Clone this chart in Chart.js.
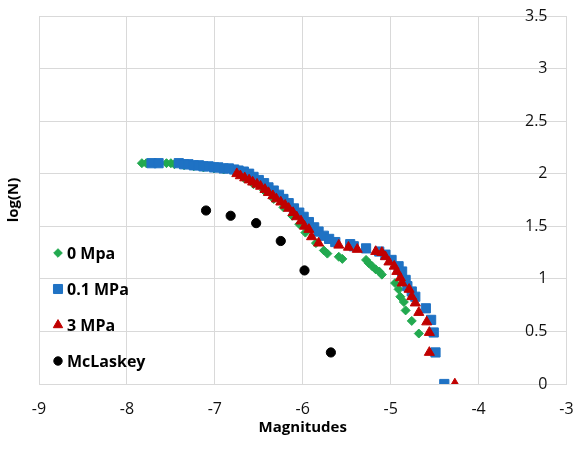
<!DOCTYPE html>
<html>
<head>
<meta charset="utf-8">
<title>log(N) vs Magnitudes</title>
<script src="https://cdn.jsdelivr.net/npm/chart.js@4.4.1/dist/chart.umd.min.js"></script>
<style>
  html, body { margin: 0; padding: 0; background: #fff; }
  #wrap { width: 574px; height: 449px; }
</style>
</head>
<body>
<div id="wrap"><canvas id="magChart"></canvas></div>
<script>
// values: magnitude (x) and log(N) (y)
const mpa0X = [-7.83, -7.78, -7.55, -7.50, -7.46, -7.35, -7.24, -7.13, -7.01, -6.90, -6.78, -6.67, -6.56, -6.44,
  -6.33, -6.22, -6.12, -6.04, -5.97, -5.85, -5.76, -5.72, -5.59, -5.55, -5.28, -5.25, -5.21, -5.17, -5.13, -5.10,
  -4.95, -4.91, -4.89, -4.85, -4.83, -4.76, -4.68];
const mpa0Y = [2.10, 2.10, 2.10, 2.10, 2.09, 2.08, 2.07, 2.06, 2.05, 2.04, 2.02, 1.96, 1.90, 1.84,
  1.76, 1.68, 1.60, 1.52, 1.44, 1.34, 1.27, 1.24, 1.21, 1.19, 1.18, 1.15, 1.12, 1.09, 1.07, 1.04,
  0.96, 0.90, 0.83, 0.78, 0.70, 0.60, 0.48];

const mpa01X = [-7.72, -7.64, -7.41, -7.35, -7.30, -7.24, -7.18, -7.13, -7.07, -7.01, -6.96, -6.90, -6.84, -6.78,
  -6.73, -6.67, -6.61, -6.56, -6.50, -6.44, -6.39, -6.33, -6.27, -6.22, -6.16, -6.10, -6.04, -5.99, -5.93, -5.87,
  -5.82, -5.76, -5.70, -5.63, -5.46, -5.42, -5.28, -5.13, -5.06, -4.99, -4.91, -4.87, -4.83, -4.81, -4.76, -4.72,
  -4.60, -4.54, -4.51, -4.49, -4.39];
const mpa01Y = [2.10, 2.10, 2.10, 2.09, 2.09, 2.08, 2.08, 2.07, 2.07, 2.06, 2.06, 2.05, 2.05, 2.04,
  2.03, 2.02, 2.00, 1.97, 1.94, 1.91, 1.87, 1.84, 1.80, 1.76, 1.72, 1.67, 1.63, 1.59, 1.54, 1.49,
  1.45, 1.41, 1.38, 1.35, 1.33, 1.31, 1.29, 1.26, 1.23, 1.18, 1.12, 1.07, 0.99, 0.93, 0.88, 0.83,
  0.72, 0.61, 0.49, 0.30, 0.00];

const mpa3X = [-6.75, -6.71, -6.66, -6.61, -6.57, -6.52, -6.48, -6.43, -6.39, -6.34, -6.30, -6.25, -6.20, -6.16,
  -6.11, -6.07, -6.02, -5.98, -5.93, -5.90, -5.82, -5.59, -5.48, -5.38, -5.17, -5.10, -5.06, -5.02, -4.96, -4.93,
  -4.89, -4.87, -4.79, -4.76, -4.72, -4.68, -4.59, -4.56, -4.56, -4.27];
const mpa3Y = [2.00, 1.98, 1.96, 1.94, 1.92, 1.90, 1.88, 1.85, 1.82, 1.79, 1.76, 1.73, 1.70, 1.67,
  1.63, 1.59, 1.55, 1.50, 1.47, 1.40, 1.34, 1.32, 1.30, 1.28, 1.26, 1.25, 1.21, 1.16, 1.12, 1.07,
  1.01, 0.96, 0.90, 0.83, 0.77, 0.68, 0.59, 0.49, 0.30, 0.00];

const mclaskeyX = [-7.10, -6.82, -6.53, -6.25, -5.98, -5.68];
const mclaskeyY = [1.65, 1.60, 1.53, 1.36, 1.08, 0.30];

const seriesNames = ['0 Mpa', '0.1 MPa', '3 MPa', 'McLaskey'];
const xTicks = [-9, -8, -7, -6, -5, -4, -3];
const yTicks = [0, 0.5, 1, 1.5, 2, 2.5, 3, 3.5];

function toPoints(xs, ys) {
    return xs.map((x, i) => ({ x: x, y: ys[i] }));
}

// legend sits inside the plot, on the left, like the original
const insideLegend = {
    id: 'insideLegend',
    afterDatasetsDraw(chart) {
        const ctx = chart.ctx;
        const rows = [253, 289, 325, 361];
        ctx.save();
        ctx.font = "bold 16px 'Open Sans', sans-serif";
        ctx.textBaseline = 'middle';
        ctx.textAlign = 'left';
        chart.data.datasets.forEach((ds, i) => {
            ctx.fillStyle = ds.backgroundColor;
            ctx.strokeStyle = ds.borderColor;
            ctx.lineWidth = 1;
            Chart.helpers.drawPoint(ctx, {
                pointStyle: ds.pointStyle,
                radius: ds.legendRadius,
                rotation: 0,
                borderWidth: 1
            }, 58, rows[i]);
            ctx.fillStyle = '#000';
            ctx.fillText(ds.label, 67, rows[i] + 1);
        });
        ctx.restore();
    }
};

Chart.defaults.font.family = "'Open Sans', sans-serif";
Chart.defaults.color = '#111';

const gridColor = '#d9d9d9';

new Chart(document.getElementById('magChart'), {
    type: 'scatter',
    data: {
        datasets: [
            {
                label: seriesNames[0],
                data: toPoints(mpa0X, mpa0Y),
                pointStyle: 'rectRot',
                pointRadius: 4.5,
                legendRadius: 4.3,
                backgroundColor: '#22a94f',
                borderColor: '#22a94f',
                order: 4
            },
            {
                label: seriesNames[1],
                data: toPoints(mpa01X, mpa01Y),
                pointStyle: 'rect',
                pointRadius: 6.5,
                legendRadius: 6.4,
                backgroundColor: '#1f72c4',
                borderColor: '#1f72c4',
                order: 3
            },
            {
                label: seriesNames[2],
                data: toPoints(mpa3X, mpa3Y),
                pointStyle: 'triangle',
                pointRadius: 5.8,
                legendRadius: 5.4,
                backgroundColor: '#c00000',
                borderColor: '#c00000',
                order: 2
            },
            {
                label: seriesNames[3],
                data: toPoints(mclaskeyX, mclaskeyY),
                pointStyle: 'circle',
                pointRadius: 4.6,
                legendRadius: 4.2,
                backgroundColor: '#000',
                borderColor: '#000',
                order: 1
            }
        ]
    },
    options: {
        responsive: true,
        maintainAspectRatio: false,
        animation: false,
        layout: {
            padding: { left: 5, right: 7, top: 16, bottom: 12 }
        },
        plugins: {
            legend: { display: false },
            tooltip: { enabled: false }
        },
        scales: {
            x: {
                type: 'linear',
                position: 'bottom',
                min: xTicks[0],
                max: xTicks[xTicks.length - 1],
                afterBuildTicks: axis => { axis.ticks = xTicks.map(v => ({ value: v })); },
                afterFit: axis => {
                    axis.height = 53;
                    axis.paddingLeft = 0;
                    axis.paddingRight = 0;
                },
                ticks: { padding: 16, font: { size: 16 }, maxRotation: 0 },
                grid: { color: gridColor, drawTicks: false },
                border: { display: false },
                title: {
                    display: true,
                    text: 'Magnitudes',
                    color: '#000',
                    font: { size: 15, weight: 'bold' },
                    padding: { top: 0, bottom: 0 }
                }
            },
            y: {
                type: 'linear',
                position: 'right',
                min: yTicks[0],
                max: yTicks[yTicks.length - 1],
                afterBuildTicks: axis => { axis.ticks = yTicks.map(v => ({ value: v })); },
                afterFit: axis => {
                    axis.width = 0;
                    axis.paddingTop = 0;
                    axis.paddingBottom = 0;
                },
                ticks: { mirror: true, padding: -19, font: { size: 16 }, callback: v => String(v) },
                grid: { color: gridColor, drawTicks: false },
                border: { display: false }
            },
            yTitle: {
                type: 'linear',
                position: 'left',
                ticks: { display: false },
                grid: { display: false, drawTicks: false },
                border: { display: false },
                title: {
                    display: true,
                    text: 'log(N)',
                    color: '#000',
                    font: { size: 15, weight: 'bold' },
                    padding: { top: 0, bottom: 16 }
                }
            }
        }
    },
    plugins: [insideLegend]
});
</script>
</body>
</html>
